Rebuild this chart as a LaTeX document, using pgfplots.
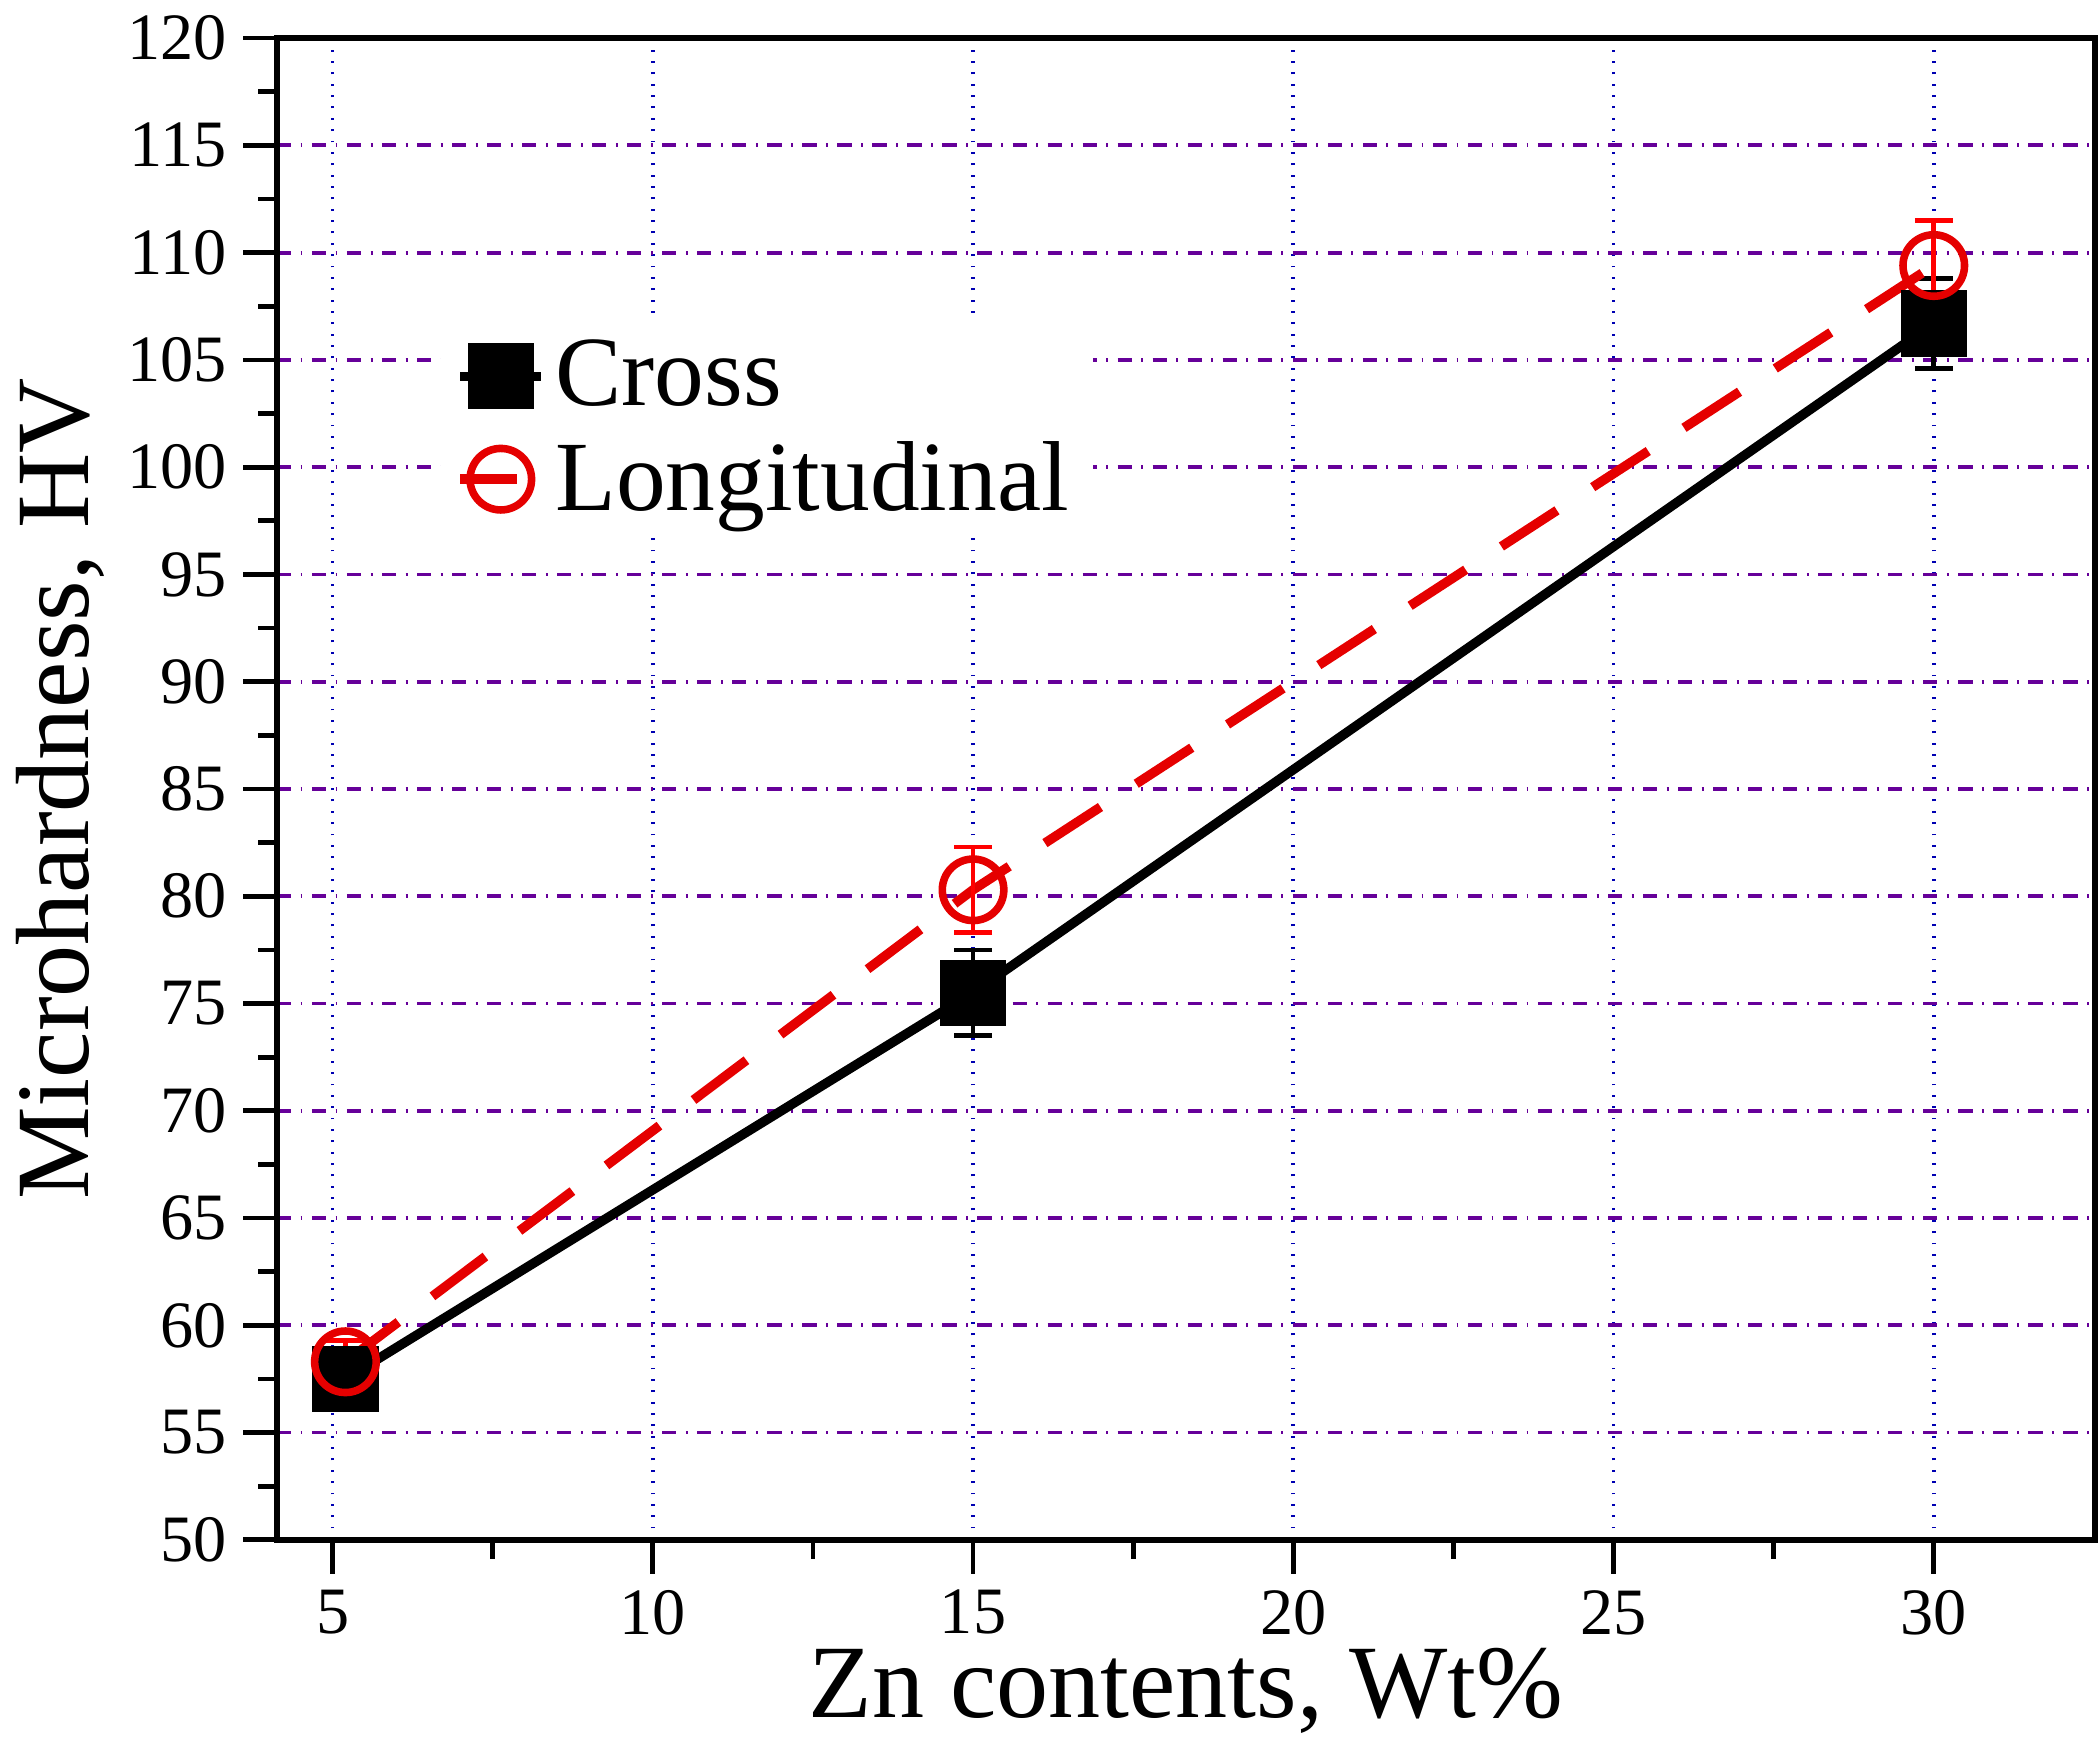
\documentclass[border=0pt]{standalone}
\usepackage{pgfplots}
\pgfplotsset{compat=1.18}
\usepackage{fontspec}
\setmainfont{Liberation Serif}
\begin{document}
\begin{tikzpicture}
\begin{axis}[
  scale only axis, width=13.5cm, height=11.15cm,
  xmin=4.13, xmax=32.52, ymin=50, ymax=120,
  xtick={5,10,15,20,25,30}, ytick={50,55,...,120},
  minor x tick num=1, minor y tick num=1,
  tick pos=left, tick align=outside,
  major tick length=0.25cm, minor tick length=0.14cm,
  axis line style={line width=1.2pt}, every tick/.style={line width=1pt,black},
  /pgf/number format/assume math mode=true,
  ticklabel style={font=\fontsize{14}{14}\selectfont},
  label style={font=\fontsize{22}{22}\selectfont},
  xlabel={Zn contents, Wt\%}, ylabel={Microhardness, HV},
  xlabel style={yshift=4pt}, ylabel style={yshift=-2pt},
  xmajorgrids, ymajorgrids,
  x grid style={blue!70!black, dotted, line width=0.8pt},
  y grid style={violet!80!blue, dash dot, line width=0.8pt},
  legend style={at={(0.09,0.74)}, anchor=west, draw=none, fill=white,
    font=\fontsize{21}{21}\selectfont, row sep=2pt},
  legend cell align=left,
]
\addlegendimage{black, line width=2pt, mark=square*, mark size=6pt, mark options={solid, fill=black}}
\addlegendentry{Cross}
\addlegendimage{red!90!black, dash pattern=on 12pt off 8pt, line width=2pt, mark=o, mark size=6.5pt, mark options={solid, fill=white, line width=1.6pt}}
\addlegendentry{Longitudinal}
\addplot[forget plot, black, line width=2pt, mark=square*, mark size=6pt,
  mark options={solid, fill=black},
  error bars/.cd, y dir=both, y explicit, error bar style={line width=1pt, black}, error mark options={rotate=90, mark size=4pt, line width=1pt}]
  coordinates {(5.2,57.5) +- (0,1.2) (15,75.5) +- (0,2.0) (30,106.7) +- (0,2.1)};
\addplot[forget plot, red!90!black, dash pattern=on 14pt off 9pt, line width=2pt, mark=o, mark size=6.5pt,
  mark options={solid, fill=white, line width=1.6pt},
  error bars/.cd, y dir=both, y explicit, error bar style={line width=1pt, solid, red}, error mark options={rotate=90, mark size=4pt, line width=1pt}]
  coordinates {(5.2,58.3) +- (0,1.0) (15,80.3) +- (0,2.0) (30,109.4) +- (0,2.1)};
\end{axis}
\end{tikzpicture}
\end{document}
